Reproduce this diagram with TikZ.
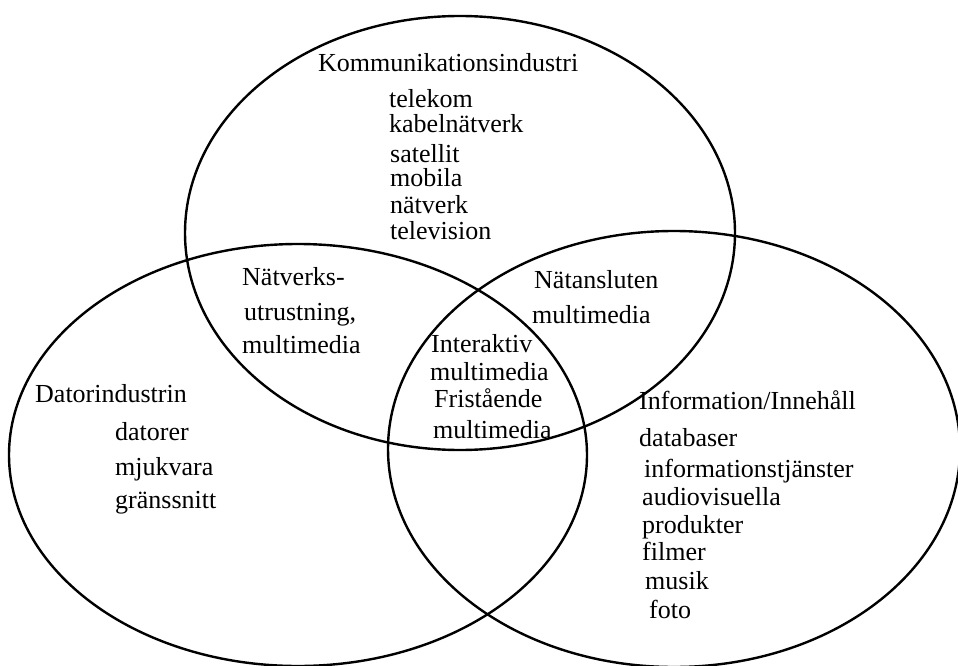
\documentclass[tikz,border=0pt]{standalone}
\usepackage{fontspec}
\setmainfont{Liberation Serif}

\begin{document}
\begin{tikzpicture}[x=1pt, y=-1pt, line width=2.4pt,
    lbl/.style={anchor=base west, inner sep=0pt, font=\fontsize{26}{31}\selectfont}]
    \useasboundingbox (0,0) rectangle (958,666);

    % the three sectors
    \draw (460,233) ellipse [x radius=275, y radius=217];
    \draw (298,455) ellipse [x radius=289, y radius=211];
    \draw (674,449) ellipse [x radius=286, y radius=218];

    % Kommunikation
    \node[lbl] (komm) at (317,72) {Kommunikationsindustri};
    \node[lbl] (tele) at (388,108) {telekom};
    \node[lbl] (kabel) at (388,132) {kabelnätverk};
    \node[lbl] (sat) at (389,162) {satellit};
    \node[lbl] (mob) at (389,186) {mobila};
    \node[lbl] (natv) at (389,213) {nätverk};
    \node[lbl] (tv) at (389,239) {television};

    % Dator
    \node[lbl] (dator) at (34,402) {Datorindustrin};
    \node[lbl] (dat) at (114,440) {datorer};
    \node[lbl] (mjuk) at (114,475) {mjukvara};
    \node[lbl] (grans) at (114,508) {gränssnitt};

    % Information
    \node[lbl] (info) at (638,409) {Information/Innehåll};
    \node[lbl] (dbas) at (638,446) {databaser};
    \node[lbl] (itj) at (643,477) {informationstjänster};
    \node[lbl] (av) at (641,505) {audiovisuella};
    \node[lbl] (prod) at (641,533) {produkter};
    \node[lbl] (film) at (641,560) {filmer};
    \node[lbl] (mus) at (644,589) {musik};
    \node[lbl] (foto) at (648,618) {foto};

    % overlaps
    \node[lbl] (nu1) at (241,285) {Nätverks-};
    \node[lbl] (nu2) at (243,320) {utrustning,};
    \node[lbl] (nu3) at (241,353) {multimedia};
    \node[lbl] (na1) at (533,288) {Nätansluten};
    \node[lbl] (na2) at (531,323) {multimedia};
    \node[lbl] (ia1) at (430,352) {Interaktiv};
    \node[lbl] (ia2) at (429,380) {multimedia};
    \node[lbl] (fs1) at (433,407) {Fristående};
    \node[lbl] (fs2) at (432,438) {multimedia};
\end{tikzpicture}
\end{document}
